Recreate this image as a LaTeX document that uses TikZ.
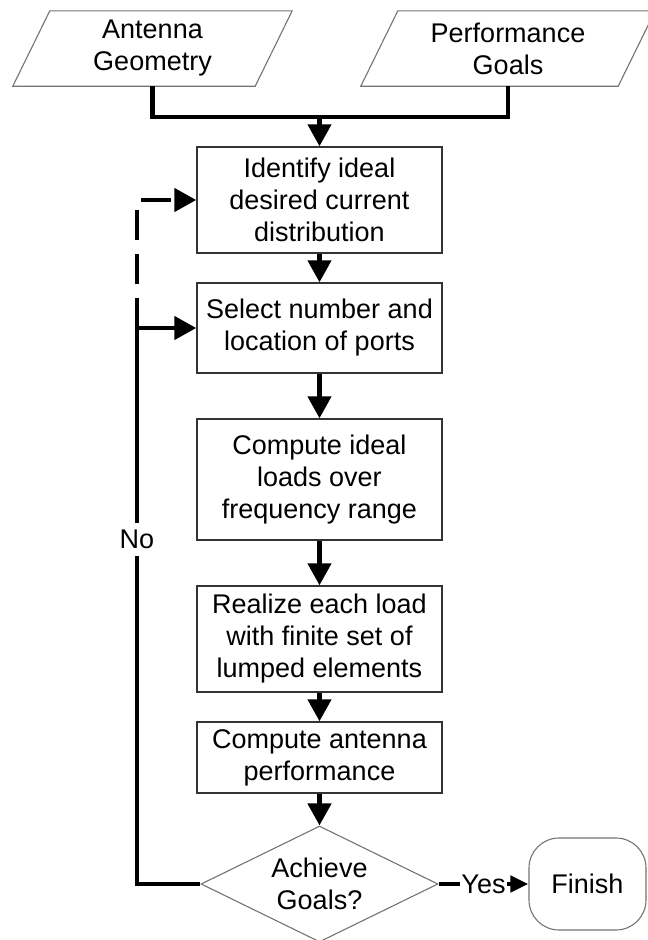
\documentclass[tikz,border=0pt]{standalone}
\usepackage{fontspec}
\setmainfont{Liberation Sans}
\usetikzlibrary{shapes.geometric,arrows.meta}
\tikzset{
  box/.style={draw=black!80,line width=1.4pt,minimum width=245pt,align=center,inner sep=2pt},
  io/.style={minimum height=75pt,align=center,inner sep=0pt},
  ask/.style={diamond,draw=black!55,line width=1.1pt,aspect=2.04,minimum width=237pt,minimum height=116pt,inner sep=0pt,align=center},
  term/.style={draw=black!55,line width=1.1pt,rounded corners=30pt,minimum width=117pt,minimum height=92pt},
  flow/.style={line width=4.5pt,-{Triangle[length=22pt,width=23pt]}},
}
\begin{document}
\begin{tikzpicture}[x=1pt,y=-1pt,font=\fontsize{27}{32}\selectfont]
\useasboundingbox (0,0) rectangle (648,940);
\node[io,minimum width=242pt] (geom) at (152.5,48.5) {Antenna\\Geometry};
\node[io,minimum width=257pt] (goals) at (508,48.5) {Performance\\Goals};
\foreach \n in {geom,goals}
  \draw[black!55,line width=1.1pt] ([xshift=18.5pt]\n.north west) -- ([xshift=18.5pt]\n.north east)
    -- ([xshift=-18.5pt]\n.south east) -- ([xshift=-18.5pt]\n.south west) -- cycle;
\node[box,minimum height=106pt] (ident) at (319.5,200) {Identify ideal\\desired current\\distribution};
\node[box,minimum height=90pt] (select) at (319.5,328) {Select number and\\location of ports};
\node[box,minimum height=121pt] (loads) at (319.5,479.5) {Compute ideal\\loads over\\frequency range};
\node[box,minimum height=106pt] (realize) at (319.5,639) {Realize each load\\with finite set of\\lumped elements};
\node[box,minimum height=71pt] (perform) at (319.5,757.5) {Compute antenna\\performance};
\node[ask] (achieve) at (319.5,884) {Achieve\\Goals?};
\node[term] (finish) at (587.5,884) {Finish};
\coordinate (merge) at (319.5,117);
\coordinate (back) at (137,328);
\draw[line width=4.5pt] (geom.south) |- (merge) -| (goals.south);
\draw[flow] (merge) -- (ident);
\draw[flow] (ident) -- (select);
\draw[flow] (select) -- (loads);
\draw[flow] (loads) -- (realize);
\draw[flow] (realize) -- (perform);
\draw[flow] (perform) -- (achieve);
\draw[flow] (achieve.west) -| (back) node[pos=0.81,fill=white,inner sep=7pt] {No} -- (select.west);
\draw[flow,dash pattern=on 30pt off 14pt] (back) |- (ident.west);
\draw[line width=4.5pt,-{Triangle[length=18pt,width=16pt]}] (achieve.east) -- node[fill=white,inner sep=1pt] {Yes} (finish.west);
\end{tikzpicture}
\end{document}
